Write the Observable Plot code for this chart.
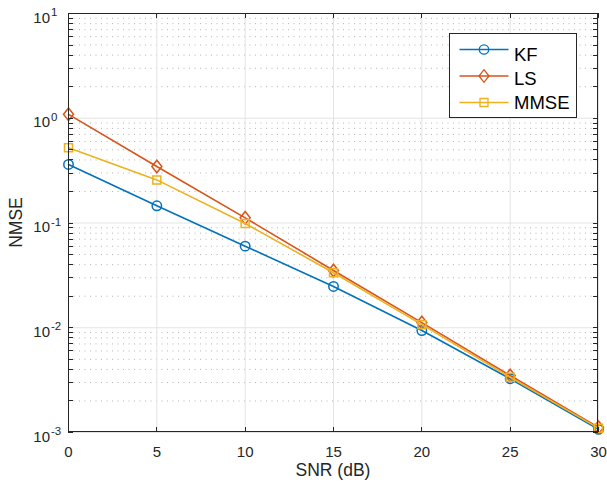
<!DOCTYPE html>
<html><head><meta charset="utf-8">
<script src="https://cdn.jsdelivr.net/npm/d3@7"></script>
<script src="https://cdn.jsdelivr.net/npm/@observablehq/plot@0.6"></script>
<style>body{margin:0;background:#fff;} svg{display:block}</style>
</head><body><div id="chart"></div>
<script>
// ---- data ----
const snr = [0, 5, 10, 15, 20, 25, 30];
const kf = [0.362, 0.146, 0.0601, 0.0248, 0.0094, 0.00326, 0.00107];
const ls = [1.09, 0.346, 0.112, 0.0352, 0.0112, 0.0035, 0.00112];
const mmse = [0.522, 0.258, 0.099, 0.0335, 0.0107, 0.00337, 0.0011];
const seriesNames = ["KF", "LS", "MMSE"];
const seriesColors = ["#0072BD", "#D95319", "#EDB120"];
const xTicks = [0, 5, 10, 15, 20, 25, 30];
const yDecades = [-3, -2, -1, 0, 1];
const xLabel = "SNR (dB)";
const yLabel = "NMSE";

// ---- derived ----
const seriesValues = [kf, ls, mmse];
const majorY = yDecades.map(k => 10 ** k);
const minorY = yDecades.slice(0, -1).flatMap(k => [2,3,4,5,6,7,8,9].map(m => m * 10 ** k));
const rows = seriesNames.flatMap((name, i) => snr.map((s, j) => ({series: name, snr: s, v: seriesValues[i][j]})));

const symCircle = {draw(c){ c.moveTo(4.7, 0); c.arc(0, 0, 4.7, 0, 2 * Math.PI); c.closePath(); }};
const symDiamond = {draw(c){ c.moveTo(0, -6.3); c.lineTo(5, 0); c.lineTo(0, 6.3); c.lineTo(-5, 0); c.closePath(); }};
const symSquare = {draw(c){ c.rect(-4, -4, 8, 8); }};
const symbols = [symCircle, symDiamond, symSquare];

const axisColor = "#262626";
const font = "'Liberation Sans', Arial, Helvetica, sans-serif";

function decorations(index, scales, values, dims) {
  const {x, y} = scales;
  const {width, height, marginLeft: ml, marginRight: mr, marginTop: mt, marginBottom: mb} = dims;
  const x0 = ml, x1 = width - mr, y0 = mt, y1 = height - mb;
  const tl = 5;
  const g = d3.create("svg:g").attr("fill", "none").attr("stroke", axisColor).attr("stroke-width", 1);
  // ticks
  for (const t of xTicks) {
    const px = Math.round(x(t)) + 0.5;
    g.append("line").attr("x1", px).attr("x2", px).attr("y1", y1).attr("y2", y1 - tl);
    g.append("line").attr("x1", px).attr("x2", px).attr("y1", y0).attr("y2", y0 + tl);
  }
  for (const v of majorY.concat(minorY)) {
    const py = Math.round(y(v)) + 0.5;
    g.append("line").attr("x1", x0).attr("x2", x0 + tl).attr("y1", py).attr("y2", py);
    g.append("line").attr("x1", x1).attr("x2", x1 - tl).attr("y1", py).attr("y2", py);
  }
  g.append("rect").attr("x", x0 + 0.5).attr("y", y0 + 0.5).attr("width", x1 - x0 - 1).attr("height", y1 - y0 - 1);
  // y tick labels 10^k
  const tg = g.append("g").attr("stroke", "none").attr("fill", axisColor).attr("font-family", font);
  for (const k of yDecades) {
    const py = y(10 ** k);
    tg.append("text").attr("x", x0 - 18).attr("y", py + 9.5).attr("text-anchor", "end").attr("font-size", 15).text("10");
    tg.append("text").attr("x", x0 - 17).attr("y", py + 3).attr("text-anchor", "start").attr("font-size", 11.5).text(k < 0 ? "-" + (-k) : String(k));
  }
  // axis titles
  tg.append("text").attr("x", (x0 + x1) / 2).attr("y", 476).attr("text-anchor", "middle").attr("font-size", 17.5).text(xLabel);
  tg.append("text").attr("transform", `translate(22,${(y0 + y1) / 2}) rotate(-90)`).attr("text-anchor", "middle").attr("font-size", 17.5).text(yLabel);
  // legend
  const lx0 = 449.5, ly0 = 33.5, lw = 127, lh = 84;
  const lg = g.append("g");
  lg.append("rect").attr("x", lx0).attr("y", ly0).attr("width", lw).attr("height", lh).attr("fill", "white").attr("stroke", axisColor);
  seriesNames.forEach((name, i) => {
    const ly = 49.5 + i * 26.5;
    lg.append("line").attr("x1", 459.5).attr("x2", 508.5).attr("y1", ly).attr("y2", ly).attr("stroke", seriesColors[i]).attr("stroke-width", 1.5);
    lg.append("path").attr("d", d3.symbol(symbols[i])()).attr("transform", `translate(484,${ly})`).attr("stroke", seriesColors[i]).attr("stroke-width", 1.3).attr("fill", "none");
    lg.append("text").attr("x", 514).attr("y", 61 + i * 24).attr("text-anchor", "start").attr("stroke", "none").attr("fill", "#000").attr("font-family", font).attr("font-size", 18.5).text(name);
  });
  return g.node();
}

const seriesMarks = seriesNames.flatMap((name, i) => {
  const data = rows.filter(r => r.series === name);
  return [
    Plot.line(data, {x: "snr", y: "v", stroke: seriesColors[i], strokeWidth: 1.6}),
    Plot.dot(data, {x: "snr", y: "v", stroke: seriesColors[i], strokeWidth: 1.5, fill: "none", symbol: symbols[i], r: 5})
  ];
});

const chart = Plot.plot({
  width: 607, height: 486,
  marginLeft: 68, marginRight: 9, marginTop: 13, marginBottom: 54,
  style: {fontFamily: font, color: axisColor, background: "white", overflow: "visible"},
  x: {domain: [0, 30], axis: null},
  y: {type: "log", domain: [1e-3, 10], axis: null},
  marks: [
    Plot.ruleY(minorY, {stroke: "#b4b4b4", strokeWidth: 1, strokeDasharray: "1,4.5"}),
    Plot.ruleX(xTicks, {stroke: "#e3e3e3", strokeWidth: 1}),
    Plot.ruleY(majorY, {stroke: "#e3e3e3", strokeWidth: 1}),
    Plot.axisX({ticks: xTicks, tickSize: 0, tickPadding: 14, fontSize: 15, label: null, tickFormat: d => String(d)}),
    ...seriesMarks,
    decorations
  ]
});
document.getElementById("chart").appendChild(chart);
</script>
</body></html>
